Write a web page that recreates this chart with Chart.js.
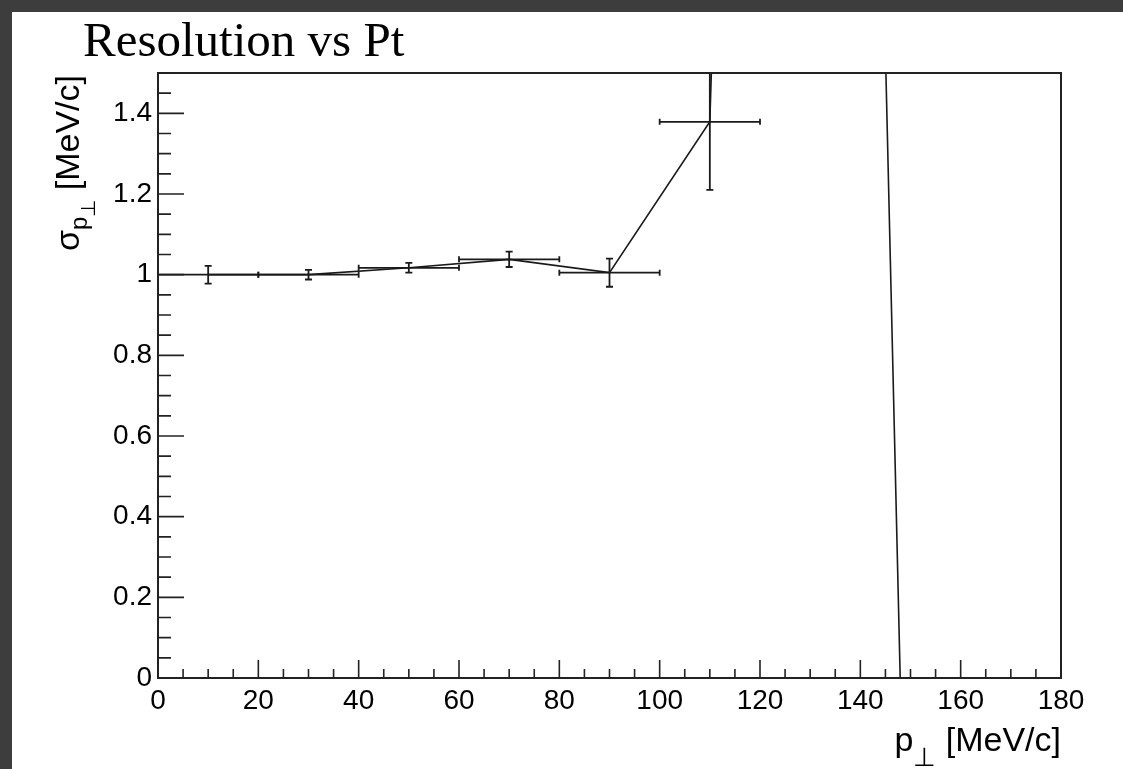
<!DOCTYPE html>
<html>
<head>
<meta charset="utf-8">
<title>Resolution vs Pt</title>
<script src="https://cdn.jsdelivr.net/npm/chart.js@4.4.1/dist/chart.umd.min.js"></script>
<style>
  body { margin: 0; background: #3d3d3d; overflow: hidden; }
  #paper { position: absolute; left: 12px; top: 12px; right: 0; bottom: 0; background: #fff; }
  #myChart { position: absolute; left: 0; top: 0; }
</style>
</head>
<body>
<div id="paper"></div>
<canvas id="myChart" width="1123" height="769"></canvas>
<script>
//Graph points (pt bin centres) and resolution
const ptBins = [10, 30, 50, 70, 90, 110, 130, 150];
const resolution = [1.0, 1.0, 1.017, 1.038, 1.005, 1.379, 9.45, -1.08];
const ptErrors = [10, 10, 10, 10, 10, 10, 10, 10];
const resolutionErrors = [0.022, 0.012, 0.012, 0.019, 0.035, 0.169, 3, 0.5];

const xTickLabels = [0, 20, 40, 60, 80, 100, 120, 140, 160, 180];
const yTickLabels = [0, 0.2, 0.4, 0.6, 0.8, 1, 1.2, 1.4];

const chartContainer = document.getElementById('myChart');

const sans = '"Liberation Sans", Arial, sans-serif';

// draws text pieces with subscripts, left to right from (0,0)
function drawPieces(ctx, pieces) {
  let pos = 0;
  pieces.forEach((p) => {
    ctx.font = `${p.size}px ${sans}`;
    ctx.fillText(p.text, pos, p.dy);
    pos += ctx.measureText(p.text).width;
  });
  return pos;
}
function piecesWidth(ctx, pieces) {
  let w = 0;
  pieces.forEach((p) => {
    ctx.font = `${p.size}px ${sans}`;
    w += ctx.measureText(p.text).width;
  });
  return w;
}

const errorBars = {
  id: 'errorBars',
  afterDatasetsDraw(chart) {
    const { ctx, chartArea: a, scales: { x, y } } = chart;
    ctx.save();
    ctx.beginPath();
    ctx.rect(a.left, a.top, a.right - a.left, a.bottom - a.top);
    ctx.clip();
    ctx.strokeStyle = '#1a1a1a';
    ctx.lineWidth = 1.8;
    ptBins.forEach((v, i) => {
      const px = x.getPixelForValue(v);
      const py = y.getPixelForValue(resolution[i]);
      const x0 = x.getPixelForValue(v - ptErrors[i]);
      const x1 = x.getPixelForValue(v + ptErrors[i]);
      const y0 = y.getPixelForValue(resolution[i] - resolutionErrors[i]);
      const y1 = y.getPixelForValue(resolution[i] + resolutionErrors[i]);
      ctx.beginPath();
      ctx.moveTo(x0, py); ctx.lineTo(x1, py);
      ctx.moveTo(px, y0); ctx.lineTo(px, y1);
      ctx.moveTo(x0, py - 3); ctx.lineTo(x0, py + 3);
      ctx.moveTo(x1, py - 3); ctx.lineTo(x1, py + 3);
      ctx.moveTo(px - 3.5, y0); ctx.lineTo(px + 3.5, y0);
      ctx.moveTo(px - 3.5, y1); ctx.lineTo(px + 3.5, y1);
      ctx.stroke();
    });
    ctx.restore();
  },
  afterDraw(chart) {
    const { ctx, chartArea: a, scales: { x, y } } = chart;
    ctx.save();
    // frame
    ctx.strokeStyle = '#222';
    ctx.lineWidth = 2;
    ctx.strokeRect(a.left, a.top, a.right - a.left, a.bottom - a.top);

    // inward ticks, ROOT style
    ctx.lineWidth = 1.6;
    ctx.beginPath();
    for (let i = 0; i <= 36; i++) {
      const px = x.getPixelForValue(i * 5);
      const len = i % 4 === 0 ? 18 : 9;
      ctx.moveTo(px, a.bottom); ctx.lineTo(px, a.bottom - len);
    }
    for (let i = 0; i <= 30; i++) {
      const py = y.getPixelForValue(i * 0.05);
      const len = i % 4 === 0 ? 26 : 13;
      ctx.moveTo(a.left, py); ctx.lineTo(a.left + len, py);
    }
    ctx.stroke();

    ctx.fillStyle = '#000';
    ctx.textBaseline = 'alphabetic';
    ctx.textAlign = 'left';

    // title
    ctx.font = '49px "Liberation Serif", "Times New Roman", serif';
    ctx.fillText('Resolution vs Pt', 83, 56);

    // x title
    const xPieces = [
      { text: 'p', size: 34, dy: 0 },
      { text: '\u22A5', size: 26, dy: 15 },
      { text: ' [MeV/c]', size: 34, dy: 0 },
    ];
    ctx.save();
    ctx.translate(a.right - piecesWidth(ctx, xPieces), 751);
    drawPieces(ctx, xPieces);
    ctx.restore();

    // y title
    const yPieces = [
      { text: '\u03C3', size: 34, dy: 0 },
      { text: 'p', size: 24, dy: 8 },
      { text: '\u22A5', size: 20, dy: 16 },
      { text: ' [MeV/c]', size: 34, dy: 0 },
    ];
    ctx.save();
    ctx.translate(79, a.top + 2 + piecesWidth(ctx, yPieces));
    ctx.rotate(-Math.PI / 2);
    drawPieces(ctx, yPieces);
    ctx.restore();

    ctx.restore();
  }
};

const chartConfiguration = {
  type: 'line',
  data: {
    datasets: [
      {
        label: 'Resolution',
        data: ptBins.map((v, i) => ({ x: v, y: resolution[i] })),
        borderColor: '#1a1a1a',
        borderWidth: 1.6,
        pointRadius: 0,
        tension: 0,
        fill: false,
      },
    ],
  },
  options: {
    responsive: false,
    animation: false,
    devicePixelRatio: 1,
    layout: { padding: { top: 73, right: 62, left: 0, bottom: 0 } },
    plugins: {
      legend: { display: false },
      tooltip: { enabled: false },
    },
    scales: {
      x: {
        type: 'linear',
        min: 0,
        max: 180,
        grid: { display: false, drawTicks: false },
        border: { display: false },
        afterBuildTicks: (scale) => { scale.ticks = xTickLabels.map((v) => ({ value: v })); },
        afterFit: (scale) => { scale.height = 91; },
        ticks: {
          autoSkip: false,
          maxRotation: 0,
          padding: 6,
          color: '#000',
          font: { family: sans, size: 28 },
          callback: (v) => String(v),
        },
      },
      y: {
        min: 0,
        max: 1.5,
        grid: { display: false, drawTicks: false },
        border: { display: false },
        afterBuildTicks: (scale) => { scale.ticks = yTickLabels.map((v) => ({ value: v })); },
        afterFit: (scale) => { scale.width = 158; },
        ticks: {
          autoSkip: false,
          padding: 6,
          color: '#000',
          font: { family: sans, size: 28 },
          callback: (v) => String(v),
        },
      },
    },
  },
  plugins: [errorBars],
};

const myChart = new Chart(chartContainer, chartConfiguration);
</script>
</body>
</html>
